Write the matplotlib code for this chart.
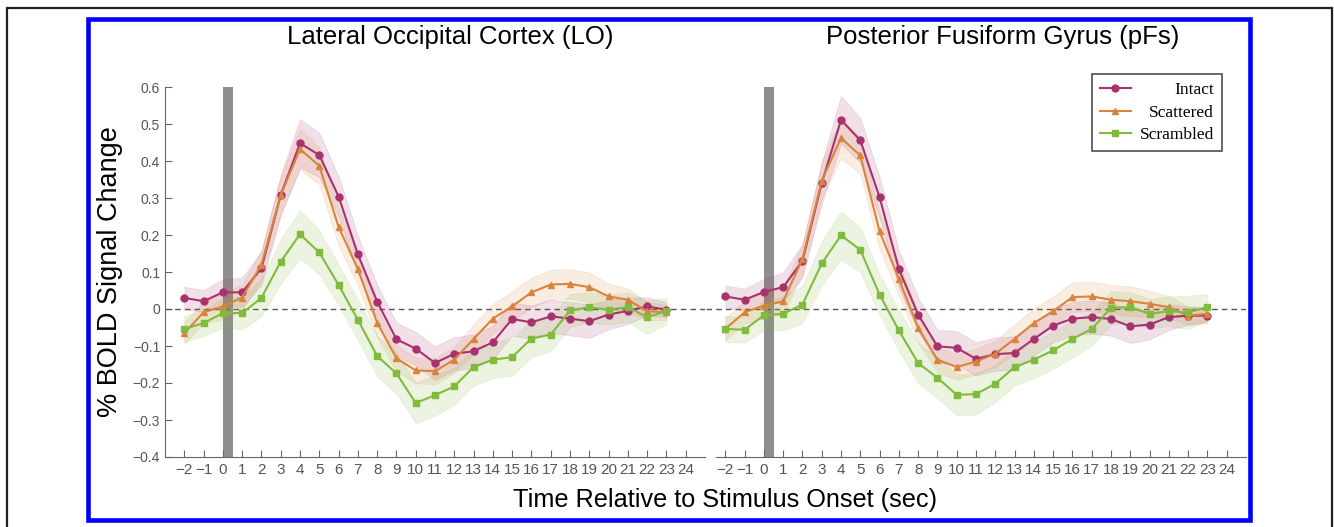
import matplotlib
matplotlib.use("Agg")
import matplotlib.pyplot as plt
from matplotlib.patches import Rectangle

times = list(range(-2, 24))

# Lateral Occipital Cortex (LO)
lo_intact = [0.030, 0.021, 0.045, 0.045, 0.110, 0.308, 0.448, 0.416, 0.304, 0.148, 0.020, -0.082, -0.107,
             -0.146, -0.121, -0.114, -0.090, -0.027, -0.036, -0.020, -0.026, -0.033, -0.015, -0.005, 0.007, -0.002]
lo_scattered = [-0.065, -0.009, 0.007, 0.031, 0.120, 0.308, 0.432, 0.387, 0.222, 0.108, -0.037, -0.133, -0.166,
                -0.168, -0.137, -0.081, -0.026, 0.007, 0.045, 0.066, 0.068, 0.059, 0.034, 0.025, -0.006, -0.009]
lo_scrambled = [-0.054, -0.038, -0.011, -0.011, 0.030, 0.128, 0.202, 0.153, 0.065, -0.029, -0.127, -0.174, -0.254,
                -0.233, -0.209, -0.157, -0.137, -0.130, -0.080, -0.069, -0.004, 0.005, -0.002, 0.005, -0.022, -0.006]
lo_intact_err = [0.03, 0.03, 0.035, 0.04, 0.045, 0.055, 0.065, 0.06, 0.055, 0.05, 0.045, 0.045, 0.045,
                 0.045, 0.045, 0.045, 0.045, 0.045, 0.045, 0.045, 0.045, 0.045, 0.04, 0.035, 0.025, 0.02]
lo_scattered_err = [0.03, 0.03, 0.035, 0.035, 0.04, 0.05, 0.055, 0.05, 0.05, 0.045, 0.04, 0.035, 0.035,
                    0.035, 0.035, 0.04, 0.04, 0.04, 0.04, 0.04, 0.04, 0.04, 0.035, 0.03, 0.025, 0.02]
lo_scrambled_err = [0.035, 0.035, 0.04, 0.045, 0.05, 0.06, 0.065, 0.06, 0.055, 0.055, 0.055, 0.055, 0.055,
                    0.055, 0.05, 0.05, 0.05, 0.05, 0.05, 0.045, 0.045, 0.04, 0.04, 0.04, 0.045, 0.035]

# Posterior Fusiform Gyrus (pFs)
pfs_intact = [0.034, 0.025, 0.046, 0.059, 0.130, 0.340, 0.511, 0.456, 0.302, 0.108, -0.015, -0.101, -0.105,
              -0.135, -0.122, -0.119, -0.081, -0.045, -0.026, -0.022, -0.027, -0.047, -0.042, -0.022, -0.018, -0.018]
pfs_scattered = [-0.054, -0.009, 0.009, 0.021, 0.135, 0.347, 0.462, 0.415, 0.210, 0.081, -0.051, -0.137, -0.157,
                 -0.142, -0.121, -0.081, -0.038, -0.006, 0.032, 0.034, 0.025, 0.021, 0.014, 0.005, -0.018, -0.013]
pfs_scrambled = [-0.054, -0.056, -0.017, -0.013, 0.012, 0.123, 0.199, 0.160, 0.039, -0.058, -0.146, -0.186, -0.232,
                 -0.230, -0.202, -0.157, -0.137, -0.112, -0.081, -0.054, 0.003, 0.005, -0.013, -0.006, -0.009, 0.005]
pfs_intact_err = [0.03, 0.03, 0.035, 0.04, 0.045, 0.055, 0.065, 0.06, 0.055, 0.05, 0.045, 0.045, 0.045,
                  0.045, 0.045, 0.045, 0.045, 0.045, 0.045, 0.045, 0.045, 0.045, 0.04, 0.035, 0.025, 0.02]
pfs_scattered_err = [0.03, 0.03, 0.035, 0.035, 0.04, 0.05, 0.055, 0.05, 0.05, 0.045, 0.04, 0.035, 0.035,
                     0.035, 0.035, 0.04, 0.04, 0.04, 0.04, 0.04, 0.04, 0.04, 0.035, 0.03, 0.025, 0.02]
pfs_scrambled_err = [0.035, 0.035, 0.04, 0.045, 0.05, 0.06, 0.065, 0.06, 0.055, 0.055, 0.055, 0.055, 0.055,
                     0.055, 0.05, 0.05, 0.05, 0.05, 0.05, 0.045, 0.045, 0.04, 0.04, 0.04, 0.045, 0.035]

conditions = ["Intact", "Scattered", "Scrambled"]
colors = ["#a8326e", "#d8843c", "#80bb3c"]
markers = ["o", "^", "s"]
yticks = [-0.4, -0.3, -0.2, -0.1, 0, 0.1, 0.2, 0.3, 0.4, 0.5, 0.6]
ytick_labels = ["\u22120.4", "\u22120.3", "\u22120.2", "\u22120.1", "0", "0.1", "0.2", "0.3", "0.4", "0.5", "0.6"]
xticks = list(range(-2, 25))
xtick_labels = [str(t).replace("-", "\u2212") for t in xticks]

plt.rcParams['font.family'] = ['Liberation Sans', 'DejaVu Sans']

fig = plt.figure(figsize=(13.34, 5.27), dpi=100)
ax1 = fig.add_axes([165 / 1334, 70 / 527, 540 / 1334, 370 / 527])
ax2 = fig.add_axes([706 / 1334, 70 / 527, 540 / 1334, 370 / 527])

panels = [
    (ax1, "Lateral Occipital Cortex (LO)", 0.528, [lo_intact, lo_scattered, lo_scrambled],
     [lo_intact_err, lo_scattered_err, lo_scrambled_err]),
    (ax2, "Posterior Fusiform Gyrus (pFs)", 0.55, [pfs_intact, pfs_scattered, pfs_scrambled],
     [pfs_intact_err, pfs_scattered_err, pfs_scrambled_err]),
]

for ax, title, tx, series, errs in panels:
    ax.axvspan(0, 0.5, color="#8e8e8e", lw=0, zorder=1)
    ax.axhline(0, color="#555555", ls=(0, (4, 3)), lw=1.0, zorder=2)
    for vals, err, c, m, name in zip(series, errs, colors, markers, conditions):
        lo = [v - e for v, e in zip(vals, err)]
        hi = [v + e for v, e in zip(vals, err)]
        ax.fill_between(times, lo, hi, color=c, alpha=0.15, lw=0.6, edgecolor=c, zorder=3)
        ax.plot(times, vals, color=c, marker=m, ms=5 if m == "o" else 4.5, lw=1.5, label=name, zorder=4)
    ax.set_xlim(-3, 25)
    ax.set_ylim(-0.4, 0.6)
    ax.set_xticks(xticks)
    ax.set_xticklabels(xtick_labels)
    ax.set_title(title, fontsize=18.5, x=tx, pad=31)
    for s in ["top", "right"]:
        ax.spines[s].set_visible(False)
    ax.spines["bottom"].set_color("#666666")
    ax.tick_params(axis="x", direction="in", length=5, colors="#666666", labelcolor="#555555",
                   labelsize=11, pad=4)
    ax.patch.set_alpha(0)

ax1.set_yticks(yticks)
ax1.set_yticklabels(ytick_labels)
ax1.spines["left"].set_color("#666666")
ax1.tick_params(axis="y", direction="in", length=5, colors="#666666", labelcolor="#555555", labelsize=10)
ax1.set_ylabel("% BOLD Signal Change", fontsize=19.5, labelpad=7)

ax2.spines["left"].set_visible(False)
ax2.spines["bottom"].set_bounds(-2.5, 25)
ax2.set_yticks([])

leg = ax2.legend(loc="upper right", bbox_to_anchor=(0.955, 1.034), frameon=True, fancybox=False,
                 edgecolor="#222222", handlelength=1.8, handletextpad=0.5, borderpad=0.45,
                 labelspacing=0.35, borderaxespad=0, prop={"family": "Liberation Serif", "size": 12.5})
leg.get_frame().set_linewidth(1.2)
renderer = fig.canvas.get_renderer()
widths = [t.get_window_extent(renderer).width for t in leg.get_texts()]
for t, w in zip(leg.get_texts(), widths):
    t.set_position((max(widths) - w, 0))

fig.text(725 / 1334, 1 - 500 / 527, "Time Relative to Stimulus Onset (sec)", ha="center", va="center", fontsize=18.2)

# frames round the figure
fig.patches.append(Rectangle((88 / 1334, 1 - 519.5 / 527), (1250 - 88) / 1334, (519.5 - 19) / 527,
                             transform=fig.transFigure, fill=False, edgecolor="#0000ff", lw=3.3))
fig.patches.append(Rectangle((7 / 1334, -0.1), (1332 - 7) / 1334, 1.1 - 7.5 / 527,
                             transform=fig.transFigure, fill=False, edgecolor="#222222", lw=1.6))

fig.savefig("out.png", dpi=100)
